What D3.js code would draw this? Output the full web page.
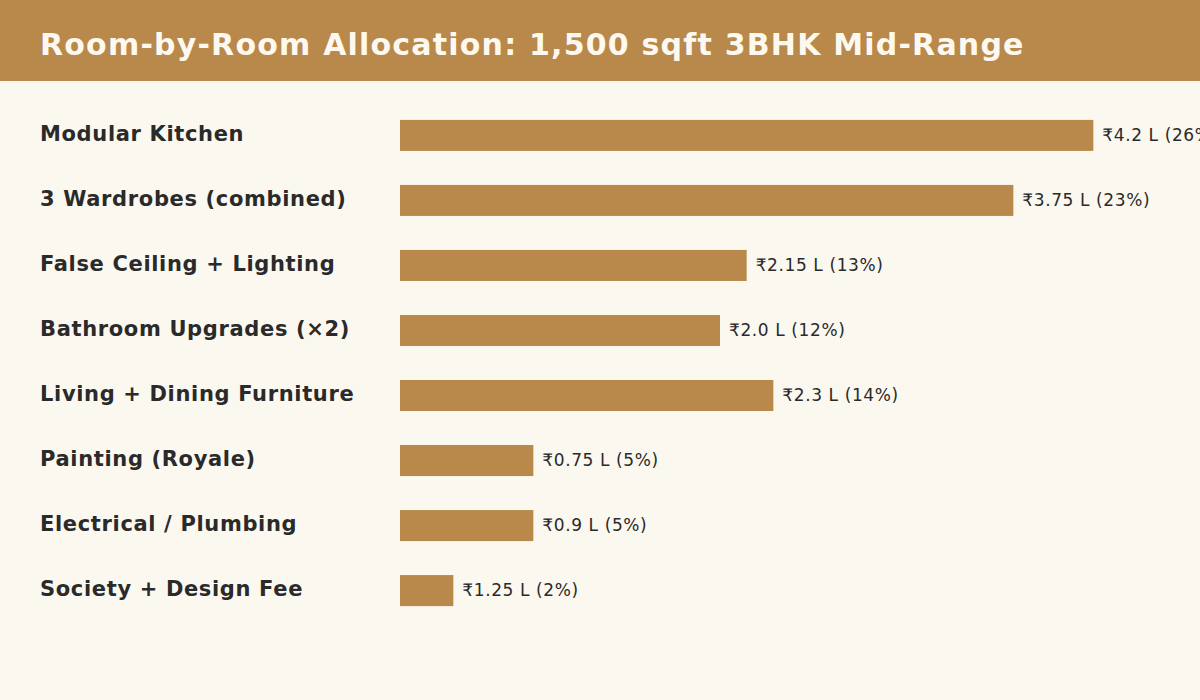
<!DOCTYPE html>
<html><head><meta charset="utf-8">
<script src="https://cdn.jsdelivr.net/npm/d3@7"></script>
<style>body{margin:0;background:#fbf8f0;font-family:"DejaVu Sans",sans-serif;}</style>
</head><body><div id="chart"></div>
<script>
const title = 'Room-by-Room Allocation: 1,500 sqft 3BHK Mid-Range';
const rooms = ['Modular Kitchen', '3 Wardrobes (combined)', 'False Ceiling + Lighting', 'Bathroom Upgrades (×2)',
    'Living + Dining Furniture', 'Painting (Royale)', 'Electrical / Plumbing', 'Society + Design Fee'];
const amounts = ['₹4.2 L', '₹3.75 L', '₹2.15 L', '₹2.0 L', '₹2.3 L', '₹0.75 L', '₹0.9 L', '₹1.25 L'];
const shares = [26, 23, 13, 12, 14, 5, 5, 2];

const width = 1200, height = 700;
const svg = d3.select('#chart').append('svg')
    .attr('width', width).attr('height', height);

svg.append('rect').attr('width', width).attr('height', height).attr('fill', '#fbf8f0');
svg.append('rect').attr('width', width).attr('height', 81).attr('fill', '#b8894a');
svg.append('text')
    .attr('x', 40).attr('y', 55)
    .attr('fill', '#fdf9f0').style('font-size', '30px').style('font-weight', 'bold')
    .style('letter-spacing', '1.2px')
    .text(title);

const x = d3.scaleLinear().domain([0, 30]).range([400, 1200]);
const y = d3.scaleBand().domain(d3.range(rooms.length)).range([103, 103 + 65 * rooms.length]).paddingInner(0.523).paddingOuter(0.26);

const rows = svg.selectAll('g.row').data(rooms).enter().append('g').attr('class', 'row');

rows.append('text')
    .attr('x', 40).attr('y', (d, i) => y(i) + y.bandwidth() / 2)
    .attr('dy', '0.25em')
    .attr('fill', '#2a2a2a').style('font-size', '21px').style('font-weight', 'bold')
    .style('letter-spacing', '0.65px')
    .text((d) => d);

rows.append('rect')
    .attr('x', x(0)).attr('y', (d, i) => y(i))
    .attr('width', (d, i) => x(shares[i]) - x(0)).attr('height', y.bandwidth())
    .attr('fill', '#b8894a');

rows.append('text')
    .attr('x', (d, i) => x(shares[i]) + 9).attr('y', (d, i) => y(i) + y.bandwidth() / 2)
    .attr('dy', '0.33em')
    .attr('fill', '#2a2a2a').style('font-size', '17px')
    .style('letter-spacing', '0.6px')
    .text((d, i) => `${amounts[i]} (${shares[i]}%)`);
</script></body></html>
